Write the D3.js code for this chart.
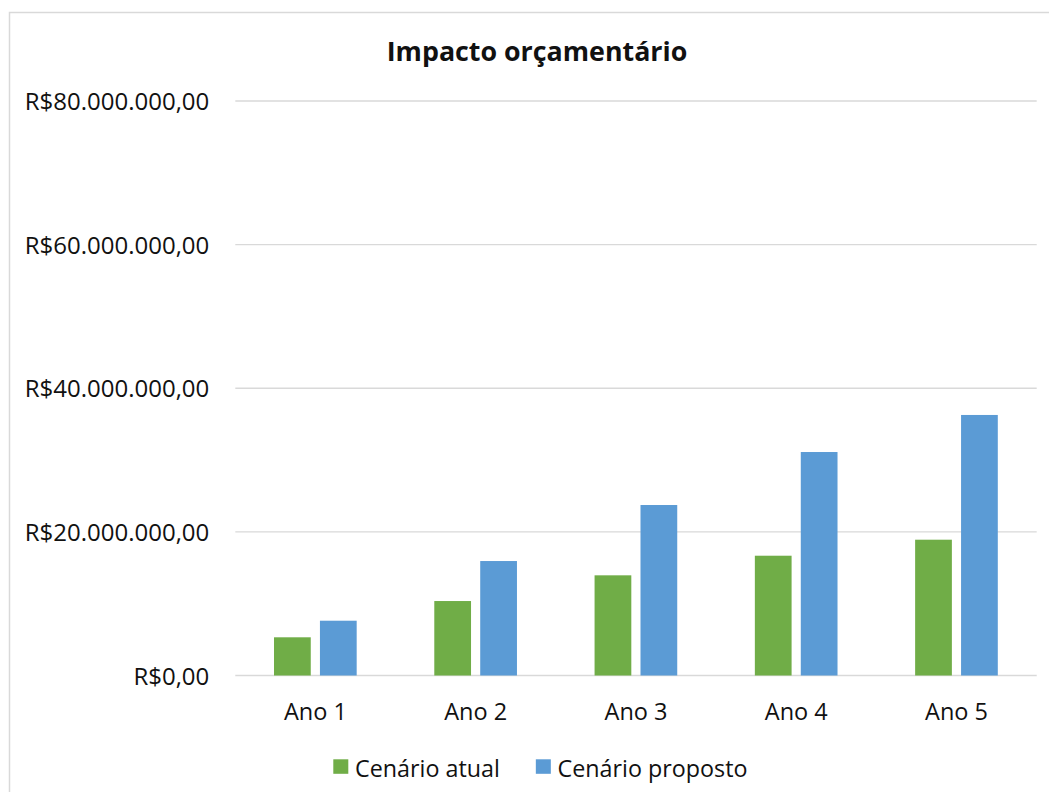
<!DOCTYPE html>
<html>
<head>
<meta charset="utf-8">
<script src="https://cdn.jsdelivr.net/npm/d3@7"></script>
<style>
  html, body { margin: 0; padding: 0; background: #fff; }
  svg { display: block; }
  text { font-family: "Open Sans", sans-serif; fill: #111; }
</style>
</head>
<body>
<svg id="chart" width="1049" height="792"></svg>
<script>
const title = "Impacto orçamentário";
const categories = ["Ano 1", "Ano 2", "Ano 3", "Ano 4", "Ano 5"];
const seriesNames = ["Cenário atual", "Cenário proposto"];
const cenarioAtual = [5320000, 10370000, 13950000, 16680000, 18910000];
const cenarioProposto = [7630000, 15940000, 23740000, 31120000, 36280000];
const yTicks = [0, 20000000, 40000000, 60000000, 80000000];
const colors = ["#70AD47", "#5B9BD5"];

const seriesValues = [cenarioAtual, cenarioProposto];
const rows = categories.map((c, i) => ({
  cat: c,
  vals: seriesNames.map((s, j) => ({ series: s, value: seriesValues[j][i], color: colors[j] }))
}));

const svg = d3.select("#chart");
const W = 1049, H = 792;
const plot = { left: 235.3, right: 1036.7, top: 101, bottom: 675.5 };

// chart area border (light gray, top and left visible)
svg.append("rect")
  .attr("x", 9.5).attr("y", 12.5)
  .attr("width", W + 20).attr("height", H + 20)
  .attr("fill", "none").attr("stroke", "#d9d9d9").attr("stroke-width", 1.5);

const locale = d3.formatLocale({ decimal: ",", thousands: ".", grouping: [3], currency: ["R$", ""] });
const fmt = locale.format("$,.2f");

const y = d3.scaleLinear().domain([0, 80000000]).range([plot.bottom, plot.top]);
const x0 = d3.scaleBand().domain(categories).range([plot.left, plot.right]).padding(0);
const bw = x0.bandwidth();
const x1 = d3.scaleBand().domain(seriesNames).range([bw * 0.2415, bw * 0.7573]).paddingInner(0.2);

// gridlines
svg.append("g").selectAll("line").data(yTicks).join("line")
  .attr("x1", plot.left).attr("x2", plot.right)
  .attr("y1", d => y(d)).attr("y2", d => y(d))
  .attr("stroke", "#d9d9d9").attr("stroke-width", 1.3);

// y axis
const yAxis = svg.append("g")
  .attr("transform", `translate(${plot.left},0)`)
  .call(d3.axisLeft(y).tickValues(yTicks).tickFormat(fmt).tickSize(0).tickPadding(26));
yAxis.select(".domain").remove();
yAxis.selectAll("text")
  .attr("dy", "0.36em")
  .style("font-family", "'Open Sans', sans-serif")
  .style("font-size", "24px").attr("fill", "#111");

// bars
const groups = svg.append("g").selectAll("g").data(rows).join("g")
  .attr("transform", d => `translate(${x0(d.cat)},0)`);
groups.selectAll("rect").data(d => d.vals).join("rect")
  .attr("x", d => x1(d.series))
  .attr("width", x1.bandwidth())
  .attr("y", d => y(d.value))
  .attr("height", d => y(0) - y(d.value))
  .attr("fill", d => d.color);

// x axis
const xAxis = svg.append("g")
  .attr("transform", `translate(0,${plot.bottom})`)
  .call(d3.axisBottom(x0).tickSize(0).tickPadding(27.5));
xAxis.select(".domain").remove();
xAxis.selectAll("text")
  .style("font-family", "'Open Sans', sans-serif")
  .style("font-size", "23.5px").attr("fill", "#111");

// title
svg.append("text")
  .attr("x", 537).attr("y", 61)
  .attr("text-anchor", "middle")
  .style("font-size", "26.8px").style("font-weight", "bold")
  .text(title);

// legend
const legend = svg.append("g");
let lx = 333.3;
seriesNames.forEach((s, j) => {
  legend.append("rect")
    .attr("x", lx).attr("y", 759.3).attr("width", 15).attr("height", 14.5)
    .attr("fill", colors[j]);
  const t = legend.append("text")
    .attr("x", lx + 21.7).attr("y", 776.5)
    .style("font-size", "23.3px")
    .text(s);
  lx = lx + 21.7 + t.node().getComputedTextLength() + 36;
});
</script>
</body>
</html>
